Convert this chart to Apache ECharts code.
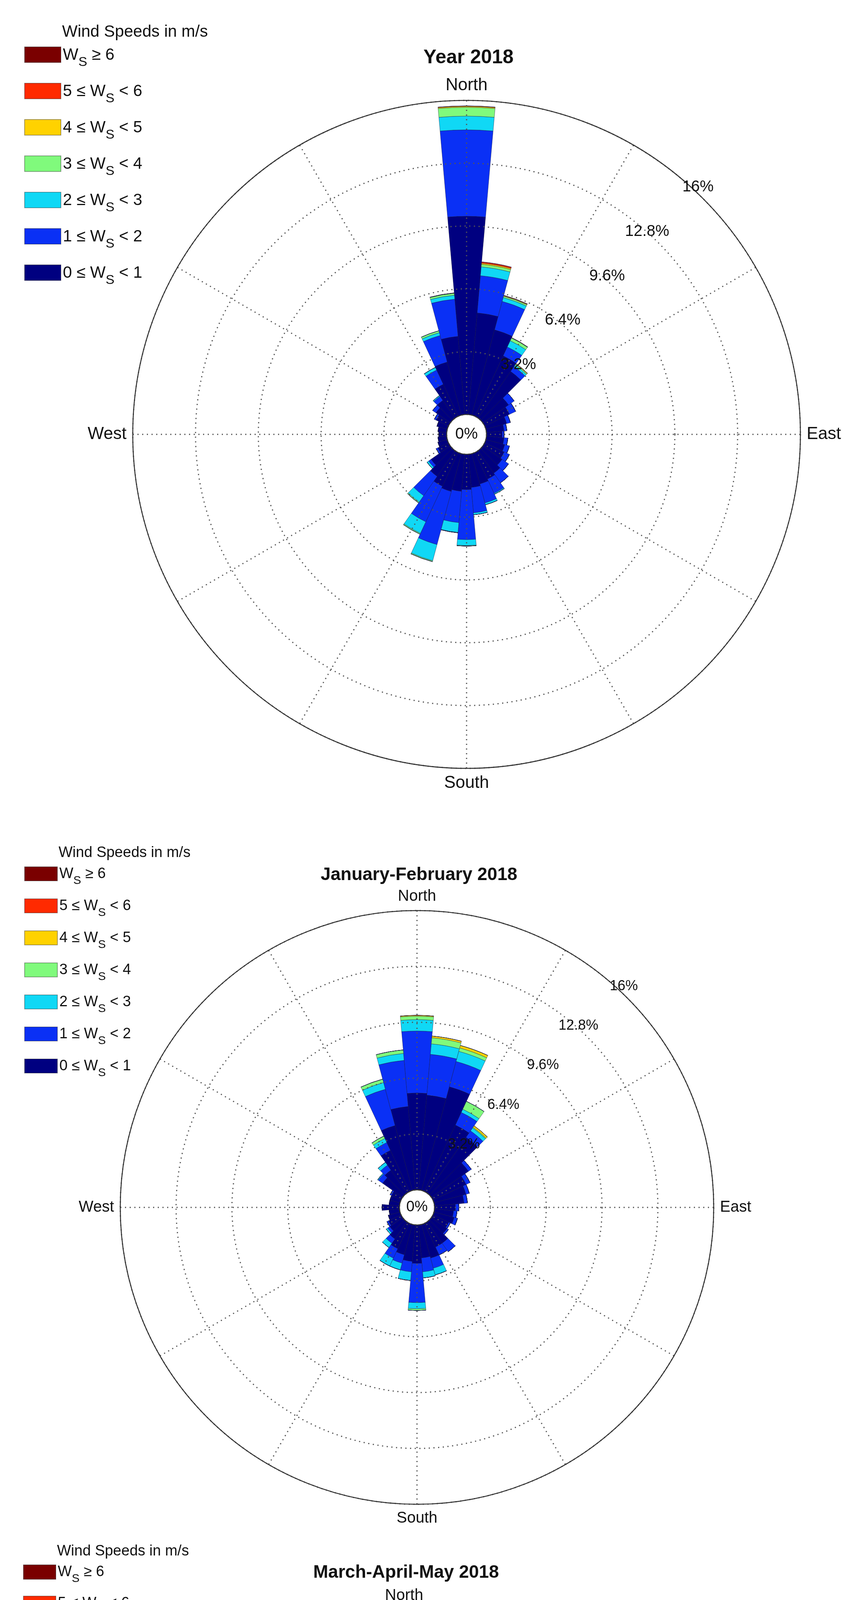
<!DOCTYPE html>
<html><head><meta charset="utf-8">
<script src="https://cdn.jsdelivr.net/npm/echarts@6/dist/echarts.min.js"></script>
<style>html,body{margin:0;padding:0;background:#fff}#c{width:2218px;height:5697px}</style>
</head><body><div id="c"></div>
<script>
const angles = [0,10,20,30,40,50,60,70,80,90,100,110,120,130,140,150,160,170,180,190,200,210,220,230,240,250,260,270,280,290,300,310,320,330,340,350];
const ringTicks = [0,3.2,6.4,9.6,12.8,16];
const binNames = ['0 ≤ W_S < 1','1 ≤ W_S < 2','2 ≤ W_S < 3','3 ≤ W_S < 4','4 ≤ W_S < 5','5 ≤ W_S < 6','W_S ≥ 6'];
const binColors = ['#000080','#0a30f5','#10d8f5','#80fa7c','#ffd200','#ff2a00','#7a0000'];
const titles = ['Year 2018','January-February 2018','March-April-May 2018'];

// Year 2018
const yr_b0 = [10.1,5.2,4.5,3.4,2.9,1.6,1.4,1.1,0.9,0.8,0.9,1.0,1.1,1.2,1.4,1.5,1.6,1.7,1.8,1.9,2.0,1.9,1.6,1.2,0.6,0.5,0.45,0.4,0.45,0.55,0.7,0.9,1.1,1.8,2.8,4.0];
const yr_b1 = [4.4,1.9,1.5,0.5,0.3,0.35,0.35,0.2,0.15,0.1,0.2,0.25,0.3,0.4,0.6,0.8,1.0,1.3,2.55,1.6,2.8,2.0,1.2,0.15,0.1,0,0,0,0,0,0.1,0.2,0.25,0.8,1.4,1.9];
const yr_b2 = [0.7,0.45,0.2,0.35,0.1,0,0,0,0,0,0,0,0,0,0,0.05,0.1,0.1,0.3,0.5,0.85,0.65,0.4,0.1,0,0,0,0,0,0,0,0,0.05,0.15,0.15,0.2];
const yr_b3 = [0.45,0.13,0.07,0.15,0.05,0,0,0,0,0,0,0,0,0,0,0,0,0,0.03,0.02,0.05,0.05,0.05,0,0,0,0,0,0,0,0,0,0,0,0.1,0.1];
const yr_b4 = [0.05,0.06,0.03,0.02,0.03,0,0,0,0,0,0,0,0,0,0,0,0,0,0,0,0,0,0,0,0,0,0,0,0,0,0,0,0,0,0,0.02];
const yr_b5 = [0.02,0.06,0.02,0,0,0,0,0,0,0,0,0,0,0,0,0,0,0,0,0,0,0,0,0,0,0,0,0,0,0,0,0,0,0,0,0];
const yr_b6 = [0,0.01,0,0,0,0,0,0,0,0,0,0,0,0,0,0,0,0,0,0,0,0,0,0,0,0,0,0,0,0,0,0,0,0,0,0];

// January-February 2018
const jf_b0 = [5.55,5.45,6.15,4.2,3.9,2.6,2.1,1.9,1.7,1.2,1.1,1.2,1.0,1.1,1.5,1.5,2.0,1.9,2.2,2.1,1.8,1.6,1.2,0.9,0.8,0.7,0.6,1.0,0.6,0.6,0.6,1.4,1.6,2.6,3.85,4.8];
const jf_b1 = [3.55,2.35,1.5,0.8,0.45,0.2,0.25,0.2,0.2,0.2,0.2,0.2,0.1,0.1,0.6,0.5,0.6,0.8,2.25,0.6,0.5,0.6,0.3,0.15,0.1,0,0,0,0,0,0.1,0.3,0.35,0.5,2.15,2.65];
const jf_b2 = [0.65,0.6,0.6,0.2,0.2,0,0,0,0,0,0,0,0,0,0,0,0.4,0.35,0.35,0.5,0.4,0.5,0.3,0.1,0,0,0,0,0,0,0,0.05,0.2,0.25,0.4,0.4];
const jf_b3 = [0.2,0.35,0.2,0.5,0.05,0,0,0,0,0,0,0,0,0,0,0,0,0,0.1,0,0,0,0,0,0,0,0,0,0,0,0,0,0,0.15,0.2,0.2];
const jf_b4 = [0.05,0.1,0.15,0,0.1,0,0,0,0,0,0,0,0,0,0,0,0,0,0,0,0,0,0,0,0,0,0,0,0,0,0,0,0,0,0,0];
const jf_b5 = [0,0,0,0,0,0,0,0,0,0,0,0,0,0,0,0,0,0,0,0,0,0,0,0,0,0,0,0,0,0,0,0,0,0,0,0];
const jf_b6 = [0,0,0,0,0,0,0,0,0,0,0,0,0,0,0,0,0,0,0,0,0,0,0,0,0,0,0,0,0,0,0,0,0,0,0,0];

// March-April-May 2018
const ma_b0 = [4.98,5.98,3.73,3.24,3.3,1.9,1.8,1.4,1.1,1.0,1.5,0.95,0.9,1.5,1.4,1.6,1.8,1.9,2.05,2.0,2.1,2.2,2.3,1.6,0.9,0.8,0.7,0.4,0.6,0.7,0.75,0.6,1.0,1.7,2.29,3.51];
const ma_b1 = [2.25,2.17,1.31,0.68,0.1,0.2,0.2,0.2,0.1,0,0.2,0,0,0.75,0.6,0.9,1.05,1.0,3.25,1.55,2.3,2.1,1.8,0.7,0.1,0,0,0,0,0,0,0.1,0.35,0.9,1.31,1.79];
const ma_b2 = [0.23,0.54,0.51,0.58,0.03,0,0,0,0,0,0,0,0,0,0,0.05,0.1,0.05,0.4,0.55,0.7,0.6,1.3,0.6,0.05,0,0,0,0,0,0,0,0.05,0.15,0.15,0.17];
const ma_b3 = [0.09,0.09,0.07,0.12,0.03,0,0,0,0,0,0,0,0,0,0,0,0,0,0.1,0,0.1,0.1,0.05,0.05,0,0,0,0,0,0,0,0,0,0,0.17,0.09];
const ma_b4 = [0,0.04,0.06,0.06,0,0,0,0,0,0,0,0,0,0,0,0,0,0,0,0,0,0,0,0,0,0,0,0,0,0,0,0,0,0,0,0];
const ma_b5 = [0,0.05,0.06,0.03,0,0,0,0,0,0,0,0,0,0,0,0,0,0,0,0,0,0,0,0,0,0,0,0,0,0,0,0,0,0,0,0];
const ma_b6 = [0,0.05,0.04,0,0,0,0,0,0,0,0,0,0,0,0,0,0,0,0,0,0,0,0,0,0,0,0,0,0,0,0,0,0,0,0,0];

const chartData = [
  [yr_b0,yr_b1,yr_b2,yr_b3,yr_b4,yr_b5,yr_b6],
  [jf_b0,jf_b1,jf_b2,jf_b3,jf_b4,jf_b5,jf_b6],
  [ma_b0,ma_b1,ma_b2,ma_b3,ma_b4,ma_b5,ma_b6]
];

// layout (positions/sizes only)
const L = [
  {cx:1195, cy:1112, R:855, hole:51, titleY:118, dirFont:44, ringFont:40, zeroFont:40, titleFont:50,
   legX:57, legTitleY:56, legTop:114, legGap:75, iconW:93, iconH:40, legFont:42},
  {cx:1068, cy:3091, R:760, hole:45, titleY:2212, dirFont:40, ringFont:36, zeroFont:38, titleFont:46,
   legX:57, legTitleY:2160, legTop:2213, legGap:66, iconW:84, iconH:36, legFont:38},
  {cx:1035, cy:4861, R:740, hole:46, titleY:3998, dirFont:40, ringFont:36, zeroFont:38, titleFont:46,
   legX:54, legTitleY:3948, legTop:4000, legGap:65, iconW:83, iconH:37, legFont:38}
];

const FONT = 'Liberation Sans';
const dirLabel = {0:'North',90:'East',180:'South',270:'West'};

const opt = {backgroundColor:'#fff', animation:false, textStyle:{fontFamily:FONT},
  title:[], legend:[], polar:[], angleAxis:[], radiusAxis:[], series:[], graphic:[]};

L.forEach((g,ci)=>{
  const p0 = ci*3;
  // bars polar
  opt.polar.push({center:[g.cx,g.cy], radius:[g.hole,g.R]});
  opt.angleAxis.push({polarIndex:p0, type:'category', data:angles, startAngle:95, clockwise:true,
    axisLine:{show:false}, axisTick:{show:false}, axisLabel:{show:false}, splitLine:{show:false}, z:1});
  opt.radiusAxis.push({polarIndex:p0, type:'value', min:0, max:16, axisLine:{show:false},
    axisTick:{show:false}, axisLabel:{show:false}, splitLine:{show:false}, z:1});
  // grid polar
  opt.polar.push({center:[g.cx,g.cy], radius:[g.hole,g.R]});
  opt.angleAxis.push({polarIndex:p0+1, type:'value', min:0, max:360, interval:30, startAngle:90, clockwise:true, z:10,
    axisLine:{show:true, lineStyle:{color:'#333', width:2.5}}, axisTick:{show:false},
    axisLabel:{show:true, margin:16, fontSize:g.dirFont, color:'#111', fontFamily:FONT,
      formatter:v=>dirLabel[v]||''},
    splitLine:{show:true, lineStyle:{color:'#555', type:[3,9], width:3}}});
  opt.radiusAxis.push({polarIndex:p0+1, type:'value', min:0, max:16, interval:3.2, z:10,
    axisLine:{show:false}, axisTick:{show:false}, axisLabel:{show:false},
    splitLine:{show:true, lineStyle:{color:'#555', type:[3,9], width:3}}});
  // ring labels polar (shifted outward)
  opt.polar.push({center:[g.cx,g.cy], radius:[g.hole+40,g.R+40]});
  opt.angleAxis.push({polarIndex:p0+2, type:'value', min:0, max:360, startAngle:45, show:false});
  opt.radiusAxis.push({polarIndex:p0+2, type:'value', min:0, max:16, interval:3.2, z:11,
    axisLine:{show:false}, axisTick:{show:false}, splitLine:{show:false},
    axisLabel:{show:true, margin:0, fontSize:g.ringFont, color:'#111', fontFamily:FONT,
      formatter:v=> v===0 ? '' : (Math.round(v*10)/10)+'%'}});
  // series
  chartData[ci].forEach((arr,bi)=>{
    opt.series.push({type:'bar', coordinateSystem:'polar', polarIndex:p0, name:binNames[bi],
      stack:'s'+ci, data:arr, barCategoryGap:'0%', z:2,
      itemStyle:{color:binColors[bi], borderColor:'rgba(20,20,60,0.6)', borderWidth:1}});
  });
  // title
  opt.title.push({text:titles[ci], left:g.cx, top:g.titleY, textAlign:'center',
    textStyle:{fontSize:g.titleFont, fontWeight:'bold', color:'#111', fontFamily:FONT}});
  opt.title.push({text:'Wind Speeds in m/s', left:g.legX+g.iconW+4, top:g.legTitleY,
    textStyle:{fontSize:g.legFont, fontWeight:'normal', color:'#111', fontFamily:FONT}});
  const fs = g.legFont, ss = Math.round(g.legFont*0.8);
  opt.legend.push({orient:'vertical', left:g.legX, top:g.legTop, itemWidth:g.iconW, itemHeight:g.iconH,
    itemGap:g.legGap-g.iconH, itemTextGap:4, icon:'rect', data:binNames.slice().reverse(),
    itemStyle:{borderColor:'rgba(0,0,0,0.35)', borderWidth:2},
    formatter:n=>{const parts=n.split('W_S'); return '{n|'+parts[0]+'W}{s|S}{n|'+parts[1]+'}';},
    textStyle:{color:'#111', fontFamily:FONT, rich:{
      n:{fontSize:fs, fontFamily:FONT, color:'#111', lineHeight:g.iconH, verticalAlign:'top'},
      s:{fontSize:ss, fontFamily:FONT, color:'#111', lineHeight:g.iconH, verticalAlign:'top', padding:[Math.round(fs*0.55),0,0,0]}}}});
  // centre label
  opt.graphic.push({type:'text', x:g.cx, y:g.cy, z:100,
    style:{text:'0%', fontSize:g.zeroFont, fontFamily:FONT, fill:'#111', textAlign:'center', textVerticalAlign:'middle'}});
});

const chart = echarts.init(document.getElementById('c'));
chart.setOption(opt);
</script></body></html>
